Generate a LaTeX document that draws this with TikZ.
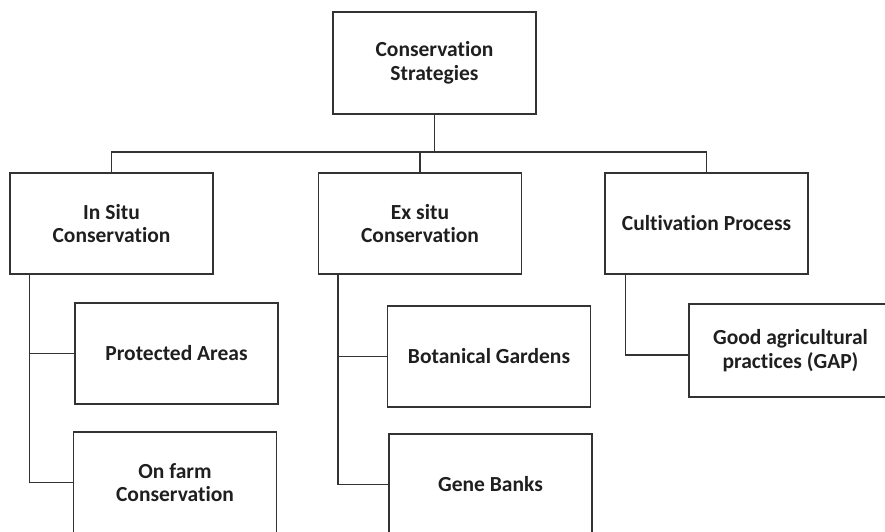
\documentclass[tikz,border=0pt]{standalone}
\usepackage{fontspec}
\setmainfont{Carlito}[Ligatures=NoCommon]
\usepackage{tikz}
\usetikzlibrary{positioning}

\definecolor{linegray}{HTML}{333333}

\begin{document}
\begin{tikzpicture}[x=1pt,y=-1pt,line width=1.3pt,draw=linegray,
    box/.style={draw=linegray,rectangle,align=center,inner sep=0pt,
      minimum width=203pt,minimum height=101pt,
      font=\fontsize{21.5}{23.5}\selectfont\bfseries,text=black!88}]

  \useasboundingbox (0,0) rectangle (885,532);
  \clip (0,0) rectangle (885,532);

  % Draw top box
  \node[box,minimum height=102pt] (strat) at (434.5,63) {Conservation\\Strategies};

  % Draw main branches
  \node[box] (insitu) at (111.5,223.5) {In Situ\\Conservation};
  \node[box] (exsitu) at (420,223.5) {Ex situ\\Conservation};
  \node[box] (cult) at (706.5,223.5) {Cultivation Process};

  % Draw leaves
  \node[box] (prot) at (176.5,353.5) {Protected Areas};
  \node[box] (farm) at (175,482.5) {On farm\\Conservation};
  \node[box] (bot) at (489,356.5) {Botanical Gardens};
  \node[box] (gene) at (490.5,484.5) {Gene Banks};
  \node[box,minimum height=93pt] (gap) at (790.5,350.5) {Good agricultural\\practices (GAP)};

  % Connect top to branches
  \coordinate (bar) at (434.5,152);
  \draw (strat.south) -- (bar);
  \draw (insitu.north) |- (bar) -| (cult.north);
  \draw (exsitu.north) -- (exsitu.north |- bar);

  % Connect branches to leaves
  \draw ([xshift=20pt]insitu.south west) |- (prot.west);
  \draw ([xshift=20pt]insitu.south west) |- (farm.west);
  \draw ([xshift=20pt]exsitu.south west) |- (bot.west);
  \draw ([xshift=20pt]exsitu.south west) |- (gene.west);
  \draw ([xshift=21pt]cult.south west) |- ([yshift=-4.5pt]gap.west);

\end{tikzpicture}
\end{document}
